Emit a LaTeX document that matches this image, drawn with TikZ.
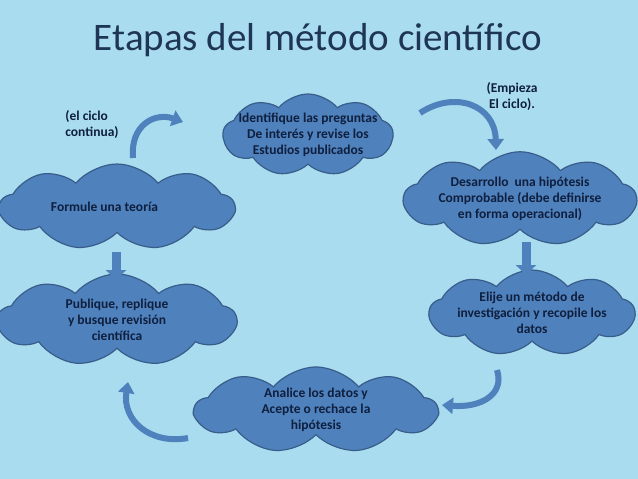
\documentclass[tikz,border=0pt]{standalone}
\usepackage{fontspec}
\setmainfont{Carlito}
\usetikzlibrary{shapes.symbols,arrows.meta}
\definecolor{bg}{HTML}{A9DCEE}
\definecolor{cl}{HTML}{4F81BD}
\definecolor{cle}{HTML}{385D8A}
\definecolor{tx}{HTML}{0F1F3D}
\definecolor{tt}{HTML}{1F3555}
\tikzset{
  cloudbox/.style={cloud, cloud puffs=9, cloud puff arc=100, aspect=2.8, fill=cl, draw=cle, line width=1.2pt, inner xsep=-14pt, inner ysep=-8pt, text=tx, font=\bfseries\fontsize{13.5}{16}\selectfont, align=center},
  cyc/.style={draw=cl, line width=6pt, -{Triangle[width=16pt,length=11pt]}},
  note/.style={text=tx, font=\bfseries\fontsize{13.5}{16}\selectfont, align=left}
}
\begin{document}
\begin{tikzpicture}[x=1pt,y=-1pt]
\fill[bg] (0,0) rectangle (638,479);
\useasboundingbox (0,0) rectangle (638,479);
\node[text=tt, font=\fontsize{39}{44}\selectfont] (title) at (318,40) {Etapas del método científico};
\node[cloudbox, minimum width=170, minimum height=82] (q) at (308,135) {Identifique las preguntas\\De interés y revise los\\Estudios publicados};
\node[cloudbox, minimum width=232, minimum height=80] (h) at (520,199) {Desarrollo\ \ una hipótesis\\Comprobable (debe definirse\\en forma operacional)};
\node[cloudbox, minimum width=205, minimum height=86] (m) at (532,313) {Elije un método de\\investigación y recopile los\\datos};
\node[cloudbox, minimum width=242, minimum height=86] (a) at (316,410) {Analice los datos y\\Acepte o rechace la\\hipótesis};
\node[cloudbox, minimum width=238, minimum height=92] (p) at (117,320) {Publique, replique\\y busque revisión\\científica};
\node[cloudbox, minimum width=234, minimum height=86] (t) at (117,207) {\hspace*{-25pt}Formule una teoría};
\node[note] (n1) at (92,125) {(el ciclo\\continua)};
\node[note, align=center] (n2) at (512,97) {(Empieza\\El ciclo).};
\coordinate (r1) at (420,113); \coordinate (r2) at (496,150);
\draw[cyc] (r1) .. controls (455,90) and (495,105) .. (r2);
\coordinate (l1) at (133,158); \coordinate (l2) at (183,122);
\draw[cyc] (l1) .. controls (130,125) and (155,112) .. (l2);
\coordinate (d1) at (116,252); \coordinate (d2) at (116,280);
\draw[cyc, line width=9pt, -{Triangle[width=20pt,length=10pt]}] (d1) -- (d2);
\coordinate (e1) at (526,242); \coordinate (e2) at (526,275);
\draw[cyc, line width=9pt, -{Triangle[width=20pt,length=10pt]}] (e1) -- (e2);
\coordinate (b1) at (497,370); \coordinate (b2) at (442,405);
\draw[cyc] (b1) .. controls (505,395) and (480,408) .. (b2);
\coordinate (c1) at (188,438); \coordinate (c2) at (128,382);
\draw[cyc] (c1) .. controls (150,445) and (122,420) .. (c2);
\end{tikzpicture}
\end{document}
